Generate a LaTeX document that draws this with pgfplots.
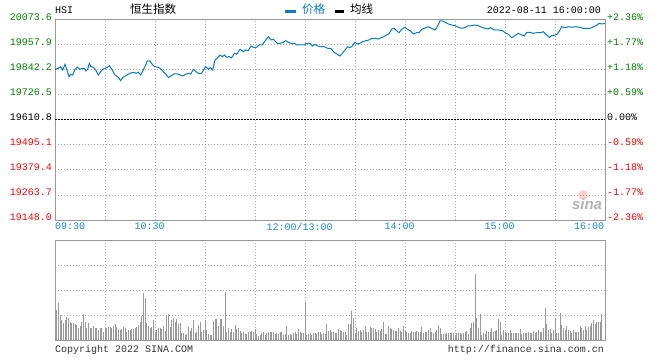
\documentclass[border=0pt]{standalone}
\usepackage{pgfplots}
\pgfplotsset{compat=1.18}
\usepackage{fontspec}
\setmainfont{Liberation Mono}
\newfontfamily\cjk{Noto Sans CJK SC}
\newfontfamily\sinafont{Liberation Sans}
\definecolor{lineblue}{HTML}{0A7ACC}
\definecolor{gridgray}{HTML}{AAAAAA}
\definecolor{framegray}{HTML}{999999}
\definecolor{upgreen}{HTML}{008000}
\definecolor{downred}{HTML}{FF0000}
\definecolor{timeblue}{HTML}{1A84D6}
\definecolor{footgray}{HTML}{333333}
\pgfplotsset{
  panel/.style={scale only axis, anchor=south west, width=550bp,
    xmin=0, xmax=330, major tick length=0pt, scaled ticks=false,
    grid=major, grid style={gridgray, line width=1bp, dash pattern=on 1bp off 2bp},
    axis line style={framegray, line width=1bp}},
}
\begin{document}
\begin{tikzpicture}[x=1bp,y=1bp,font=\fontsize{10bp}{12bp}\selectfont]
\useasboundingbox (0,0) rectangle (660,360);
% ---------------- price panel ----------------
\begin{axis}[panel, at={(55bp,140bp)}, height=200bp,
  ymin=19148.0, ymax=20073.6,
  xtick={0,30,...,330},
  xticklabels={\makebox[0pt][l]{09:30},{},\makebox[0pt]{10:30\hspace{11bp}},{},{},\makebox[0pt]{12:00/13:00\hspace{11bp}},{},\makebox[0pt]{14:00\hspace{11bp}},{},\makebox[0pt]{15:00\hspace{11bp}},{},\makebox[0pt][r]{16:00\hspace{1bp}}},
  xticklabel style={text=timeblue, anchor=north, inner sep=0pt, yshift=-3bp},
  ytick={19148.0,19263.7,19379.4,19495.1,19610.8,19726.5,19842.2,19957.9,20073.6},
  yticklabels={\textcolor{downred}{19148.0},\textcolor{downred}{19263.7},\textcolor{downred}{19379.4},\textcolor{downred}{19495.1},19610.8,\textcolor{upgreen}{19726.5},\textcolor{upgreen}{19842.2},\textcolor{upgreen}{19957.9},\textcolor{upgreen}{20073.6}},
  yticklabel style={anchor=base east, inner sep=0pt, xshift=-3bp, yshift=-0.7bp},
]
\addplot[black, line width=1bp, dash pattern=on 2bp off 1bp] coordinates {(0,19610.8) (330,19610.8)};
\addplot[lineblue, line width=1bp, mark=none] coordinates {
(0,19845.4)(2.0,19850.1)(3.4,19857.5)(4.6,19842.2)(6.0,19868.6)(7.0,19846.8)(8.4,19811.2)(9.6,19822.3)(10.6,19819.1)(12.0,19845.4)(13.4,19854.7)(15.0,19845.4)(16.4,19850.1)(17.6,19850.1)(18.6,19837.6)(19.6,19845.4)(20.6,19873.2)(21.6,19857.5)(23.0,19854.7)(24.4,19842.2)(26.0,19819.1)(27.4,19834.3)(28.6,19845.4)(30.0,19850.1)(31.4,19854.7)(32.6,19862.1)(34.0,19846.8)(36.0,19819.1)(38.0,19808.4)(39.4,19792.7)(40.6,19806.6)(43.0,19819.1)(45.0,19826.9)(47.0,19831.6)(48.6,19826.9)(50.0,19831.6)(51.4,19819.1)(53.0,19842.2)(54.4,19865.3)(55.4,19883.9)(57.0,19883.9)(58.6,19865.3)(60.0,19857.5)(62.0,19854.7)(63.6,19846.8)(65.0,19834.3)(66.6,19822.3)(68.0,19806.6)(69.4,19814.4)(71.4,19823.7)(73.4,19823.7)(75.0,19819.1)(76.6,19814.4)(78.4,19822.3)(80.0,19826.9)(81.4,19823.7)(83.0,19845.4)(84.6,19834.3)(86.0,19826.9)(88.0,19826.9)(89.4,19845.4)(90.4,19857.5)(92.0,19846.8)(93.4,19852.8)(94.6,19842.2)(96.0,19888.5)(97.6,19899.1)(99.0,19911.6)(100.4,19903.8)(101.6,19911.6)(103.0,19901.0)(104.4,19903.8)(106.0,19899.1)(107.6,19919.5)(109.0,19914.9)(111.0,19938.0)(113.0,19926.9)(114.4,19934.8)(116.0,19931.5)(117.6,19953.3)(119.0,19947.3)(120.6,19945.4)(122.4,19957.9)(124.4,19957.9)(126.0,19976.4)(128.0,19996.3)(129.6,19981.0)(131.0,19984.3)(132.0,19976.4)(133.4,19965.8)(135.0,19965.8)(136.6,19968.5)(138.4,19977.8)(140.0,19970.4)(141.6,19965.8)(143.6,19965.8)(145.0,19957.9)(148.0,19957.9)(150.0,19957.9)(150.6,19965.8)(153.0,19965.8)(154.4,19953.3)(156.0,19961.1)(157.6,19953.3)(159.6,19950.0)(161.6,19950.0)(163.6,19942.6)(165.6,19942.6)(167.0,19926.9)(169.0,19916.2)(171.0,19907.0)(172.4,19919.5)(174.0,19934.8)(175.6,19950.0)(177.0,19945.4)(178.4,19953.3)(180.0,19970.4)(181.4,19962.5)(183.0,19965.8)(184.6,19973.2)(186.6,19977.8)(188.4,19981.0)(190.0,19988.9)(192.0,19988.9)(194.0,19985.7)(195.6,19991.7)(197.4,19996.3)(199.0,20004.2)(200.6,20012.0)(202.0,20031.9)(203.4,20035.2)(205.0,20024.1)(206.4,20014.8)(208.0,20030.6)(210.0,20039.8)(211.4,20030.6)(213.0,20024.1)(215.0,20008.8)(217.0,20014.8)(218.4,20014.8)(220.0,20030.6)(221.6,20035.2)(224.0,20042.6)(226.0,20035.2)(228.0,20027.3)(229.4,20042.6)(231.0,20069.0)(232.6,20069.0)(234.0,20063.0)(236.0,20055.1)(238.0,20050.5)(240.0,20047.2)(242.0,20039.8)(244.0,20035.2)(246.0,20038.0)(247.6,20045.8)(250.0,20047.2)(252.0,20050.5)(254.0,20047.2)(256.0,20039.8)(258.0,20035.2)(260.0,20031.9)(261.4,20038.0)(263.4,20027.3)(266.0,20027.3)(268.6,20024.1)(270.0,20014.8)(272.0,20007.4)(274.0,19991.7)(276.0,20000.9)(278.0,20012.0)(280.0,20004.2)(281.6,19999.6)(283.0,20016.7)(285.0,20016.7)(287.0,20012.0)(289.0,20014.8)(291.4,20014.8)(293.0,20019.5)(295.0,20004.2)(296.6,19993.5)(298.0,20000.9)(300.0,20004.2)(301.4,20008.8)(303.0,20027.3)(304.0,20042.6)(306.0,20038.0)(308.0,20042.6)(310.0,20039.8)(312.6,20042.6)(314.6,20039.8)(317.0,20035.2)(319.0,20035.2)(321.0,20035.2)(322.6,20039.8)(324.6,20047.2)(326.6,20058.3)(328.0,20055.1)(330.0,20058.3)
};
\end{axis}
% ---------------- right-hand percentage labels ----------------
\begin{axis}[scale only axis, anchor=south west, at={(55bp,140bp)}, width=550bp, height=200bp,
  xmin=0, xmax=330, ymin=19148.0, ymax=20073.6, scaled ticks=false,
  hide x axis, axis y line*=right, y axis line style={draw=none}, major tick length=0pt,
  ytick={19148.0,19263.7,19379.4,19495.1,19610.8,19726.5,19842.2,19957.9,20073.6},
  yticklabels={\textcolor{downred}{-2.36\%},\textcolor{downred}{-1.77\%},\textcolor{downred}{-1.18\%},\textcolor{downred}{-0.59\%},0.00\%,\textcolor{upgreen}{+0.59\%},\textcolor{upgreen}{+1.18\%},\textcolor{upgreen}{+1.77\%},\textcolor{upgreen}{+2.36\%}},
  yticklabel style={anchor=base west, inner sep=0pt, xshift=2bp, yshift=-0.7bp},
]
\addplot[draw=none] coordinates {(0,19610.8) (330,19610.8)};
\end{axis}
% ---------------- volume panel ----------------
\begin{axis}[panel, at={(55bp,20bp)}, height=100bp,
  ymin=0, ymax=100, xtick={30,60,...,300}, ytick={25,50,75},
  xticklabels={}, yticklabels={},
]
\addplot[ycomb, framegray, line width=1bp, mark=none] coordinates {
(1,30)(2,36.7)(3,25)(4,20)(5,16.7)(6,20)(7,23)(8,22)(9,18)(10,16.7)(11,16.7)(12,15.7)(13,15)(14,12.3)(15,14.3)(16,18)(17,25.7)(18,17.7)(19,12.3)(20,16.7)(21,12.3)(22,12.3)(23,14.3)(24,12.3)(25,12.3)(26,10)(27,12.3)(28,11.7)(29,8.3)(30,12.3)(31,12.3)(32,13.3)(33,12.7)(34,12.3)(35,14.3)(36,15.7)(37,13.3)(38,11)(39,10)(40,10.7)(41,12.7)(42,12.3)(43,8.3)(44,10)(45,10)(46,10.7)(47,11)(48,11.7)(49,13.3)(50,15)(51,17.7)(52,24)(53,47.3)(54,42.3)(55,16.7)(56,14.3)(57,12.3)(58,13.3)(59,20)(60,8.3)(61,10)(62,11.7)(63,12.3)(64,11)(65,14.3)(66,9)(67,25)(68,25.7)(69,13.3)(70,20)(71,22.3)(72,17.7)(73,21)(74,15.7)(75,16.7)(76,6.7)(77,7.3)(78,5)(79,5.7)(80,13.3)(81,9)(82,12.3)(83,20)(84,6.7)(85,8.3)(86,15)(87,18)(88,8.3)(89,10)(90,20)(91,10)(92,5.7)(93,5)(94,5)(95,19)(96,20.7)(97,20.7)(98,14.3)(99,20.7)(100,20.7)(101,14.3)(102,48.3)(103,8.3)(104,11.7)(105,8.3)(106,11)(107,8.3)(108,15)(109,11)(110,11.7)
(111,9)(112,6.7)(113,8.3)(114,5.7)(115,5.7)(116,8.3)(117,8.3)(118,9.3)(119,7.7)(120,11)(121,5.7)(122,4.3)(123,5)(124,6.7)(125,8.3)(126,5)(127,6.7)(128,8.3)(129,8.3)(130,8.3)(131,7.7)(132,5.7)(133,6.7)(134,5.7)(135,8.3)(136,8.3)(137,5)(138,5.7)(139,14.3)(140,5)(141,6)(142,5)(143,7.3)(144,7.7)(145,5.7)(146,11)(147,8.3)(148,7.3)(149,6.7)(150,38.3)(151,5)(152,5.7)(153,6.7)(154,5)(155,6.7)(156,6.7)(157,5.7)(158,7.7)(159,8.3)(160,5.7)(161,6.7)(162,6)(163,15.7)(164,9)(165,10)(166,8.3)(167,8.3)(168,6.7)(169,6.7)(170,11)(171,10)(172,9)(173,8.3)(174,8.3)(175,5)(176,15.7)(177,15.7)(178,29)(179,22.3)(180,6.7)(181,11.7)(182,9)(183,10)(184,8.3)(185,10)(186,14.3)(187,8.3)(188,8.3)(189,13.3)(190,12.3)(191,11.7)(192,11)(193,8.3)(194,10)(195,9.3)(196,11)(197,17.7)(198,5.7)(199,5.7)(200,14.3)(201,12.3)(202,11)(203,10)(204,9)(205,9)(206,12.3)(207,9)(208,8.3)(209,14.3)(210,9)(211,8.3)(212,6.7)(213,6.7)(214,9)(215,8.3)(216,8.3)(217,9)(218,7.7)(219,8.3)(220,13.3)(221,6.7)
(222,7.7)(223,7.7)(224,10)(225,12.3)(226,7.7)(227,6.7)(228,8.3)(229,10)(230,15)(231,12.3)(232,6)(233,6)(234,6)(235,6.7)(236,6.7)(237,6.7)(238,6.7)(239,6.7)(240,5)(241,6.7)(242,6.7)(243,6.7)(244,6)(245,6.7)(246,8.3)(247,9)(248,6)(249,11.7)(250,16.7)(251,18.3)(252,65.7)(253,22.3)(254,11.7)(255,25.7)(256,5)(257,6.7)(258,5.7)(259,9)(260,7.7)(261,8.3)(262,11.7)(263,8.3)(264,9)(265,10)(266,21)(267,17.7)(268,5)(269,10)(270,7.7)(271,6.7)(272,6.7)(273,10)(274,6.7)(275,6.7)(276,6.7)(277,6.7)(278,6.7)(279,11)(280,6)(281,7.3)(282,6.7)(283,6.7)(284,8.3)(285,6.7)(286,6.7)(287,9)(288,7.3)(289,8.3)(290,10)(291,8.3)(292,8.3)(293,11.7)(294,32.3)(295,15.7)(296,10)(297,11)(298,6.7)(299,10)(300,22.3)(301,6.7)(302,6.7)(303,26.7)(304,15)(305,11.7)(306,10)(307,14)(308,10)(309,9)(310,6.7)(311,10)(312,8.3)(313,8.3)(314,8.3)(315,14)(316,12.3)(317,10)(318,14)(319,10)(320,13.3)(321,14)(322,16.7)(323,20)(324,15.7)(325,18.3)(326,18.3)(327,18.3)(328,25.7)
};
\end{axis}
% ---------------- header, legend, footer, watermark ----------------
\node[anchor=base west, inner sep=0pt] at (55,346.7) {HSI};
\node[anchor=base west, inner sep=0pt, font=\cjk\fontsize{11.5bp}{12bp}\selectfont] at (130,346.5) {恒生指数};
\fill[lineblue] (285,347.3) rectangle (296,350);
\node[anchor=base west, inner sep=0pt, text=lineblue, font=\cjk\fontsize{11.5bp}{12bp}\selectfont] at (302,346.5) {价格};
\fill[black] (335,347.3) rectangle (344,350);
\node[anchor=base west, inner sep=0pt, font=\cjk\fontsize{11.5bp}{12bp}\selectfont] at (350,346.5) {均线};
\node[anchor=base east, inner sep=0pt] at (601,346.7) {2022-08-11 16:00:00};
\node[anchor=base west, inner sep=0pt, text=footgray] at (55,7.3) {Copyright 2022 SINA.COM};
\node[anchor=base east, inner sep=0pt, text=footgray] at (604,7.3) {http://finance.sina.com.cn};
\fill[red!60, opacity=0.3] (583,165) circle (5);
\node[inner sep=0pt, text=black!30, font=\sinafont\bfseries\itshape\fontsize{15bp}{15bp}\selectfont] at (587,155.5) {sina};
\end{tikzpicture}
\end{document}
